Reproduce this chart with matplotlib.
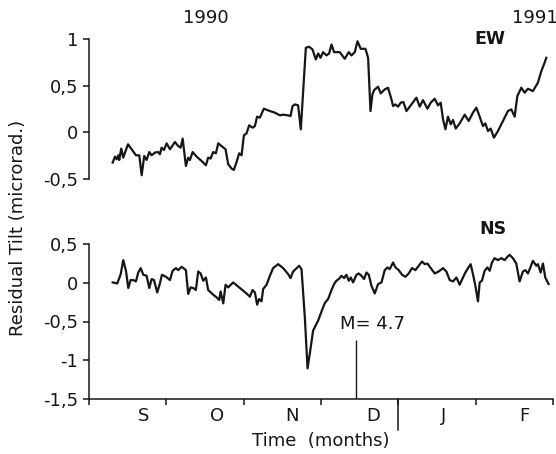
import matplotlib
matplotlib.use("Agg")
import matplotlib.pyplot as plt

# time in months from 1 Sep 1990, tilt in microradians
ew_t = [0.306, 0.336, 0.358, 0.379, 0.391, 0.417, 0.443, 0.504, 0.552, 0.607,
        0.650, 0.681, 0.714, 0.745, 0.779, 0.810, 0.853, 0.895, 0.917, 0.939,
        0.969, 1.004, 1.047, 1.111, 1.154, 1.185, 1.211, 1.253, 1.283, 1.305,
        1.340, 1.391, 1.456, 1.512, 1.541, 1.572, 1.606, 1.641, 1.671, 1.714,
        1.766, 1.800, 1.844, 1.873, 1.908, 1.942, 1.973, 2.003, 2.037, 2.071,
        2.115, 2.145, 2.174, 2.209, 2.261, 2.339, 2.403, 2.468, 2.510, 2.575,
        2.606, 2.632, 2.662, 2.704, 2.739, 2.804, 2.846, 2.890, 2.933, 2.963,
        2.994, 3.027, 3.071, 3.105, 3.136, 3.169, 3.243, 3.307, 3.359, 3.394,
        3.437, 3.472, 3.514, 3.575, 3.609, 3.640, 3.665, 3.686, 3.738, 3.773,
        3.824, 3.867, 3.911, 3.932, 3.963, 3.996, 4.031, 4.066, 4.105, 4.169,
        4.234, 4.276, 4.319, 4.376, 4.419, 4.470, 4.513, 4.548, 4.578, 4.609,
        4.642, 4.677, 4.707, 4.742, 4.793, 4.858, 4.910, 4.965, 5.009, 5.052,
        5.094, 5.125, 5.159, 5.194, 5.236, 5.288, 5.353, 5.417, 5.461, 5.504,
        5.539, 5.590, 5.633, 5.676, 5.740, 5.805, 5.849, 5.891, 5.913]
ew_tilt = [-0.324, -0.260, -0.289, -0.246, -0.296, -0.174, -0.271, -0.128, -0.182, -0.246,
           -0.246, -0.460, -0.253, -0.296, -0.211, -0.246, -0.217, -0.211, -0.235, -0.164,
           -0.189, -0.118, -0.182, -0.104, -0.147, -0.164, -0.067, -0.360, -0.271, -0.296,
           -0.211, -0.260, -0.307, -0.353, -0.271, -0.281, -0.211, -0.225, -0.118, -0.147,
           -0.182, -0.342, -0.388, -0.403, -0.318, -0.225, -0.246, -0.032, -0.011, 0.075,
           0.050, 0.067, 0.168, 0.157, 0.253, 0.228, 0.211, 0.182, 0.189, 0.182,
           0.174, 0.281, 0.299, 0.289, 0.032, 0.906, 0.917, 0.888, 0.781, 0.845,
           0.799, 0.859, 0.824, 0.845, 0.941, 0.859, 0.859, 0.788, 0.859, 0.824,
           0.859, 0.976, 0.895, 0.895, 0.799, 0.228, 0.406, 0.452, 0.489, 0.417,
           0.460, 0.478, 0.353, 0.281, 0.299, 0.275, 0.318, 0.324, 0.228, 0.299,
           0.371, 0.275, 0.345, 0.253, 0.318, 0.360, 0.289, 0.318, 0.139, 0.032,
           0.168, 0.086, 0.132, 0.040, 0.096, 0.189, 0.121, 0.211, 0.264, 0.168,
           0.067, 0.096, 0.014, 0.040, -0.057, 0.014, 0.121, 0.228, 0.246, 0.168,
           0.388, 0.478, 0.425, 0.467, 0.442, 0.532, 0.656, 0.745, 0.799]

ns_t = [0.306, 0.366, 0.410, 0.443, 0.478, 0.508, 0.539, 0.572, 0.607, 0.637,
        0.668, 0.702, 0.745, 0.779, 0.810, 0.840, 0.882, 0.917, 0.943, 0.995,
        1.047, 1.081, 1.124, 1.154, 1.198, 1.253, 1.283, 1.314, 1.348, 1.382,
        1.412, 1.443, 1.477, 1.512, 1.541, 1.606, 1.650, 1.684, 1.702, 1.736,
        1.766, 1.800, 1.864, 1.951, 2.037, 2.080, 2.115, 2.145, 2.174, 2.200,
        2.231, 2.252, 2.296, 2.339, 2.381, 2.446, 2.510, 2.575, 2.606, 2.640,
        2.717, 2.748, 2.791, 2.826, 2.855, 2.898, 2.963, 3.019, 3.049, 3.092,
        3.136, 3.169, 3.200, 3.230, 3.265, 3.298, 3.329, 3.359, 3.385, 3.415,
        3.459, 3.488, 3.523, 3.557, 3.588, 3.618, 3.652, 3.695, 3.738, 3.782,
        3.824, 3.859, 3.889, 3.932, 3.963, 4.005, 4.048, 4.092, 4.134, 4.177,
        4.221, 4.264, 4.306, 4.341, 4.376, 4.419, 4.470, 4.522, 4.578, 4.621,
        4.664, 4.707, 4.751, 4.793, 4.836, 4.867, 4.901, 4.935, 4.965, 4.996,
        5.030, 5.052, 5.081, 5.116, 5.151, 5.181, 5.211, 5.245, 5.288, 5.332,
        5.375, 5.410, 5.439, 5.482, 5.525, 5.568, 5.611, 5.642, 5.676, 5.711,
        5.740, 5.784, 5.805, 5.840, 5.870, 5.900, 5.943]
ns_tilt = [0.004, -0.009, 0.112, 0.292, 0.154, -0.068, 0.035, 0.035, 0.017, 0.132,
           0.189, 0.103, 0.090, -0.068, 0.048, 0.035, -0.125, -0.009, 0.103, 0.077,
           0.035, 0.154, 0.189, 0.163, 0.206, 0.163, -0.145, -0.060, -0.068, -0.094,
           0.145, 0.120, 0.026, 0.068, -0.094, -0.154, -0.189, -0.222, -0.112, -0.266,
           -0.026, -0.060, 0.004, -0.068, -0.138, -0.180, -0.094, -0.125, -0.283, -0.210,
           -0.240, -0.081, -0.026, 0.090, 0.189, 0.240, 0.189, 0.112, 0.060, 0.145,
           0.219, 0.176, -0.446, -1.105, -0.917, -0.617, -0.488, -0.338, -0.263, -0.210,
           -0.094, -0.017, 0.026, 0.048, 0.090, 0.060, 0.103, 0.026, 0.068, 0.004,
           0.103, 0.120, 0.090, 0.048, 0.132, 0.103, -0.039, -0.138, -0.017, 0.004,
           0.163, 0.197, 0.176, 0.261, 0.197, 0.163, 0.103, 0.077, 0.120, 0.189,
           0.163, 0.219, 0.274, 0.240, 0.248, 0.189, 0.120, 0.145, 0.189, 0.145,
           0.035, 0.017, 0.068, -0.026, 0.068, 0.132, 0.189, 0.240, 0.112, -0.039,
           -0.240, 0.004, 0.026, 0.154, 0.197, 0.154, 0.261, 0.317, 0.292, 0.317,
           0.292, 0.334, 0.360, 0.317, 0.248, 0.017, 0.145, 0.163, 0.120, 0.206,
           0.283, 0.219, 0.240, 0.132, 0.248, 0.068, -0.017]

month_labels = ["S", "O", "N", "D", "J", "F"]
month_pos = [0.70, 1.65, 2.62, 3.67, 4.59, 5.63]
month_edges = [0, 1, 2, 3, 4, 5, 6]
year_edge = 4

ew_yticks = [-0.5, 0, 0.5, 1]
ns_yticks = [-1.5, -1, -0.5, 0, 0.5]

quake_t = 3.45
quake_top = -0.745
quake_label = "M= 4.7"

ink = "#161616"
plt.rcParams["font.family"] = ["DejaVu Sans"]
plt.rcParams["font.size"] = 13


def comma_labels(values):
    return [f"{v:g}".replace(".", ",") for v in values]


fig = plt.figure(figsize=(5.56, 4.54), dpi=100)
ax_ew = fig.add_axes([89 / 556, 1 - 179 / 454, 464 / 556, 140 / 454])
ax_ns = fig.add_axes([89 / 556, 1 - 399 / 454, 464 / 556, 155 / 454])

for ax in (ax_ew, ax_ns):
    ax.set_xlim(0, 6)
    ax.spines[["top", "right"]].set_visible(False)
    for s in ax.spines.values():
        s.set_linewidth(1.1)
        s.set_color(ink)
    ax.tick_params(axis="y", direction="out", length=4.5, width=1.1,
                   pad=3.5, colors=ink, labelsize=13)
    ax.set_facecolor("none")

# EW panel
ax_ew.plot(ew_t, ew_tilt, color=ink, lw=1.6, clip_on=False)
ax_ew.set_ylim(-0.5, 1)
ax_ew.set_yticks(ew_yticks, comma_labels(ew_yticks))
ax_ew.spines["bottom"].set_visible(False)
ax_ew.set_xticks([])
ax_ew.text(5.18, 0.995, "EW", ha="center", va="center", fontweight="bold",
           fontsize=12.5, color=ink)
ax_ew.text(1.51, 1.23, "1990", ha="center", va="center", color=ink, clip_on=False)
ax_ew.text(5.76, 1.23, "1991", ha="center", va="center", color=ink, clip_on=False)

# NS panel
ax_ns.plot(ns_t, ns_tilt, color=ink, lw=1.6, clip_on=False)
ax_ns.set_ylim(-1.5, 0.5)
ax_ns.set_yticks(ns_yticks, comma_labels(ns_yticks))
ax_ns.set_xticks(month_edges, [""] * len(month_edges))
ax_ns.set_xticks(month_pos, month_labels, minor=True)
ax_ns.tick_params(axis="x", which="major", direction="out", length=4, width=1.1,
                  colors=ink)
ax_ns.tick_params(axis="x", which="minor", length=0, pad=6, colors=ink,
                  labelsize=13)
ax_ns.axvline(year_edge, ymin=-31 / 155, ymax=0, color=ink, lw=1.1,
              clip_on=False)
ax_ns.text(5.22, 0.694, "NS", ha="center", va="center", fontweight="bold",
           fontsize=12.5, color=ink)

ax_ns.vlines(quake_t, -1.5, quake_top, color=ink, lw=1.0)
ax_ns.text(3.24, -0.527, quake_label, ha="left", va="center", color=ink)

ax_ns.set_xlabel("Time  (months)", color=ink, fontsize=13)
ax_ns.xaxis.set_label_coords(0.5, -0.215)

fig.text(18 / 556, 1 - 228 / 454, "Residual Tilt (microrad.)", rotation=90,
         ha="center", va="center", color=ink, fontsize=13)

fig.savefig("out.png", dpi=100, facecolor="white")
